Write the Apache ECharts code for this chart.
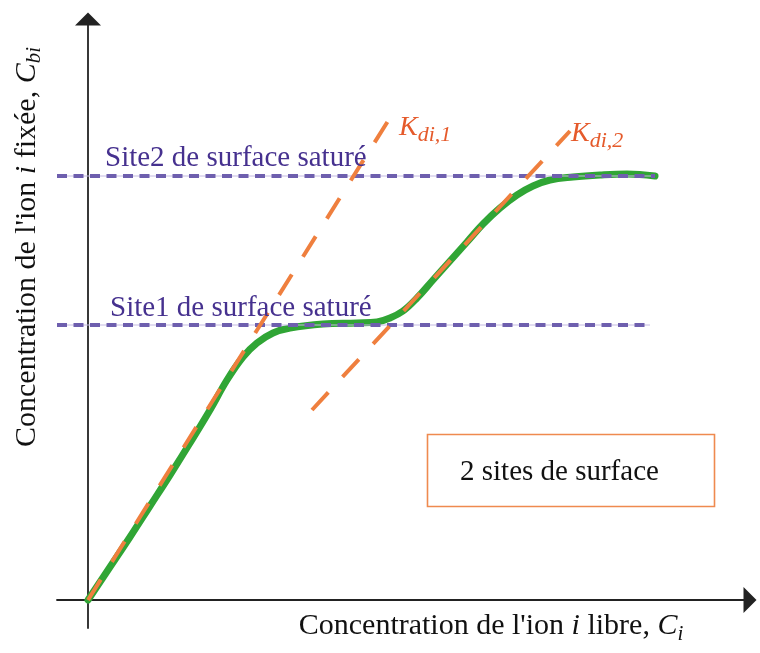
<!DOCTYPE html>
<html><head><meta charset="utf-8">
<script src="https://cdn.jsdelivr.net/npm/echarts@6/dist/echarts.min.js"></script>
<style>html,body{margin:0;padding:0;background:#fff}#c{width:760px;height:653px}</style>
</head><body><div id="c"></div>
<script>
// Adsorption curve (2 surface sites)
const curveX = [0,22,42,62,82,102,122,139,155,169,185,202,235,269,289,302,315,329,345,362,379,395,412,429,445,462,485,512,539,567];
const curveY = [0,33,63,94,125,157,190,220,243,257,267,272,276,277,278,282,289,302,320,339,358,376,392,405,414,420,423,425,426,424];
// Tangent lines Kdi,1 and Kdi,2
const kd1X = [0,300];
const kd1Y = [0,479];
const kd2X = [224,482];
const kd2Y = [190,469];
// Saturation levels
const site1X = [-31,562];
const site1Y = [275,275];
const site2X = [-31,567];
const site2Y = [424,424];
// Axis extents
const xRange = [-31,662];
const yRange = [-28,581];
// Texts
const site1Label = 'Site1 de surface saturé';
const site2Label = 'Site2 de surface saturé';
const boxLabel = '2 sites de surface';
const xTitleParts = ["Concentration de l'ion ", 'i', ' libre, ', 'C', 'i'];
const yTitleParts = ["Concentration de l'ion ", 'i', ' fixée, ', 'C', 'bi'];
const kd1Parts = ['K', 'di,1'];
const kd2Parts = ['K', 'di,2'];

const zip = (a, b) => a.map((v, i) => [v, b[i]]);
const F = 'Liberation Serif, Times New Roman, serif';
const purple = '#6e5fae';
const orange = '#ef7f3e';

function richTitle(p) {
  return '{n|' + p[0] + '}{i|' + p[1] + '}{n|' + p[2] + '}{i|' + p[3] + '}{s|' + p[4] + '}';
}
const titleRich = {
  n: {fontFamily: F, fontSize: 30, fill: '#111', verticalAlign: 'top'},
  i: {fontFamily: F, fontSize: 30, fontStyle: 'italic', fill: '#111', verticalAlign: 'top'},
  s: {fontFamily: F, fontSize: 21, fontStyle: 'italic', fill: '#111', verticalAlign: 'top', padding: [12,0,0,0]}
};
const kRich = {
  i: {fontFamily: F, fontSize: 28, fontStyle: 'italic', fill: '#e55a2b', verticalAlign: 'top'},
  s: {fontFamily: F, fontSize: 22, fontStyle: 'italic', fill: '#e55a2b', verticalAlign: 'top', padding: [11,0,0,0]}
};

const axisCommon = {
  type: 'value',
  axisTick: {show: false},
  axisLabel: {show: false},
  splitLine: {show: false},
  axisLine: {show: true, onZero: true, symbol: ['none', 'triangle'], symbolSize: [26, 13],
    lineStyle: {color: '#222', width: 1.8}}
};

const chart = echarts.init(document.getElementById('c'), null, {renderer: 'canvas'});
chart.setOption({
  backgroundColor: '#fff',
  animation: false,
  grid: {left: 57, right: 10, top: 19, bottom: 25, containLabel: false},
  xAxis: Object.assign({}, axisCommon, {min: xRange[0], max: xRange[1]}),
  yAxis: Object.assign({}, axisCommon, {min: yRange[0], max: yRange[1]}),
  series: [
    {type: 'line', data: zip(curveX, curveY), smooth: 0.4, showSymbol: false, z: 2,
      lineStyle: {color: '#30a535', width: 7, cap: 'round'}},
    {type: 'line', data: zip(site1X, site1Y), showSymbol: false, z: 3,
      lineStyle: {color: '#c4bae2', width: 1}},
    {type: 'line', data: zip(site2X, site2Y), showSymbol: false, z: 3,
      lineStyle: {color: '#c4bae2', width: 1}},
    {type: 'line', data: zip(site1X, site1Y), showSymbol: false, z: 4,
      lineStyle: {color: purple, width: 4, type: [10, 6.5]}},
    {type: 'line', data: zip(site2X, site2Y), showSymbol: false, z: 4,
      lineStyle: {color: purple, width: 4, type: [10, 6.5]}},
    {type: 'line', data: zip(kd1X, kd1Y), showSymbol: false, z: 5,
      lineStyle: {color: orange, width: 4, type: [24, 21]}},
    {type: 'line', data: zip(kd2X, kd2Y), showSymbol: false, z: 5,
      lineStyle: {color: orange, width: 4, type: [24, 21]}}
  ],
  graphic: [
    {type: 'text', x: 105, y: 158, z: 10, style: {text: site2Label, font: '29px ' + F, fill: '#46318f', align: 'left', verticalAlign: 'middle'}},
    {type: 'text', x: 110, y: 308, z: 10, style: {text: site1Label, font: '29px ' + F, fill: '#46318f', align: 'left', verticalAlign: 'middle'}},
    {type: 'text', x: 399, y: 113.5, z: 10, style: {text: '{i|' + kd1Parts[0] + '}{s|' + kd1Parts[1] + '}', rich: kRich, align: 'left', verticalAlign: 'top'}},
    {type: 'text', x: 571, y: 119.5, z: 10, style: {text: '{i|' + kd2Parts[0] + '}{s|' + kd2Parts[1] + '}', rich: kRich, align: 'left', verticalAlign: 'top'}},
    {type: 'rect', z: 10, shape: {x: 427.5, y: 434.5, width: 287, height: 72}, style: {fill: '#fff', stroke: '#ef8a4f', lineWidth: 1.6}},
    {type: 'text', x: 460, y: 472, z: 11, style: {text: boxLabel, font: '29px ' + F, fill: '#111', align: 'left', verticalAlign: 'middle'}},
    {type: 'text', x: 491, y: 628, z: 10, style: {text: richTitle(xTitleParts), rich: titleRich, align: 'center', verticalAlign: 'middle'}},
    {type: 'text', x: 28.4, y: 247, rotation: Math.PI / 2, z: 10, style: {text: richTitle(yTitleParts), rich: titleRich, align: 'center', verticalAlign: 'middle'}}
  ]
});
</script>
</body></html>
